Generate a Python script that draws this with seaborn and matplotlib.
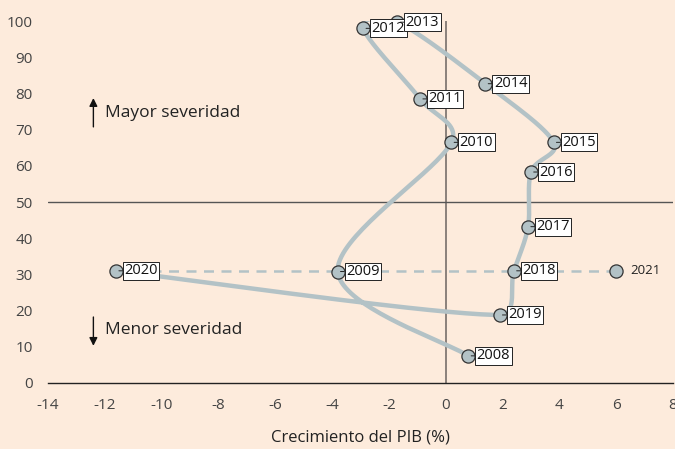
import numpy as np
import pandas as pd
import matplotlib
matplotlib.use("Agg")
import matplotlib.pyplot as plt
import seaborn as sns

years = [2008, 2009, 2010, 2011, 2012, 2013, 2014, 2015, 2016, 2017, 2018, 2019, 2020, 2021]
gdp = [0.8, -3.8, 0.2, -0.9, -2.9, -1.7, 1.4, 3.8, 3.0, 2.9, 2.4, 1.9, -11.6, 6.0]
severity = [7.5, 30.8, 66.5, 78.5, 98.0, 99.7, 82.7, 66.5, 58.3, 43.2, 31.0, 18.8, 31.0, 31.0]
xticks = [-14, -12, -10, -8, -6, -4, -2, 0, 2, 4, 6, 8]
yticks = [0, 10, 20, 30, 40, 50, 60, 70, 80, 90, 100]

df = pd.DataFrame({"year": years, "gdp": gdp, "sev": severity})

BG = "#FDEBDC"
LINE = "#B3C2C6"
FONT = ["Open Sans", "DejaVu Sans"]


def smooth(xs, ys, n=40):
    # excel-like smoothed line: bezier segments with tangents clamped
    sc = np.array([28.4, 3.62])  # work in screen-ish units
    p = np.column_stack([xs, ys]).astype(float) * sc
    m = len(p)
    tang = np.zeros_like(p)
    for i in range(m):
        a = p[max(i - 1, 0)]
        b = p[min(i + 1, m - 1)]
        tang[i] = (b - a) / 2
    out = []
    for i in range(m - 1):
        p0, p3 = p[i], p[i + 1]
        seg = np.linalg.norm(p3 - p0)
        d1 = tang[i] / 3
        d2 = tang[i + 1] / 3
        lim = 0.4 * seg
        if np.linalg.norm(d1) > lim:
            d1 = d1 / np.linalg.norm(d1) * lim
        if np.linalg.norm(d2) > lim:
            d2 = d2 / np.linalg.norm(d2) * lim
        p1 = p0 + d1
        p2 = p3 - d2
        t = np.linspace(0, 1, n)[:, None]
        c = ((1 - t) ** 3) * p0 + 3 * ((1 - t) ** 2) * t * p1 + 3 * (1 - t) * t ** 2 * p2 + t ** 3 * p3
        out.append(c)
    c = np.vstack(out) / sc
    return c[:, 0], c[:, 1]


sns.set_theme(style="white")
plt.rcParams["font.family"] = FONT

fig = plt.figure(figsize=(6.75, 4.49), dpi=100, facecolor=BG)
ax = fig.add_axes([0.071, 0.147, 0.926, 0.806])
ax.set_facecolor(BG)

path = df[df.year <= 2020]
cx, cy = smooth(path.gdp.values, path.sev.values)
curve = pd.DataFrame({"x": cx, "y": cy})
sns.lineplot(data=curve, x="x", y="y", sort=False, estimator=None,
             color=LINE, lw=3.2, ax=ax, zorder=3)

dash = df[df.year.isin([2020, 2021])]
sns.lineplot(data=dash, x="gdp", y="sev", sort=False, estimator=None,
             color=LINE, lw=1.8, ls=(0, (4, 3)), ax=ax, zorder=2)

sns.scatterplot(data=df, x="gdp", y="sev", s=90, color=LINE,
                edgecolor="#333333", linewidth=0.9, ax=ax, zorder=5, clip_on=False)

ax.axvline(0, color="#6b6461", lw=1.1, zorder=1)
ax.axhline(50, color="#555555", lw=1.0, zorder=1)

for _, r in df.iterrows():
    if r.year == 2021:
        ax.annotate(str(int(r.year)), (r.gdp, r.sev), xytext=(10, 0),
                    textcoords="offset points", ha="left", va="center",
                    fontsize=9.5, color="#222222")
        continue
    ax.annotate(str(int(r.year)), (r.gdp, r.sev), xytext=(6, 0),
                textcoords="offset points", ha="left", va="center",
                fontsize=10.5, color="#111111", zorder=6,
                bbox=dict(boxstyle="square,pad=0.1", fc="white", ec="#222222", lw=0.7),
                arrowprops=dict(arrowstyle="-", color="#222222", lw=0.7,
                                shrinkA=0, shrinkB=2))

ax.annotate("", xy=(-12.4, 79.5), xytext=(-12.4, 70),
            arrowprops=dict(arrowstyle="-|>,head_width=0.2,head_length=0.4",
                            color="#111111", lw=1))
ax.text(-12.0, 74.6, "Mayor severidad", fontsize=12.5, va="center", color="#222222")
ax.annotate("", xy=(-12.4, 9.5), xytext=(-12.4, 19),
            arrowprops=dict(arrowstyle="-|>,head_width=0.2,head_length=0.4",
                            color="#111111", lw=1))
ax.text(-12.0, 14.6, "Menor severidad", fontsize=12.5, va="center", color="#222222")

ax.set_xlim(-14, 8)
ax.set_ylim(0, 100)
ax.set_xticks(xticks)
ax.set_yticks(yticks)
ax.set_xticklabels([str(t) for t in xticks], fontsize=11, color="#444444")
ax.set_yticklabels([str(t) for t in yticks], fontsize=11, color="#444444")
for s in ["left", "right", "top"]:
    ax.spines[s].set_visible(False)
ax.spines["bottom"].set_color("#222222")
ax.spines["bottom"].set_linewidth(1.0)
ax.tick_params(axis="x", direction="in", length=5, width=1, color="#222222", pad=11)
ax.tick_params(axis="y", length=0, pad=11)
ax.set_xlabel("Crecimiento del PIB (%)", fontsize=12, color="#222222", labelpad=12)
ax.set_ylabel("")

fig.savefig("out.png", dpi=100, facecolor=BG)
